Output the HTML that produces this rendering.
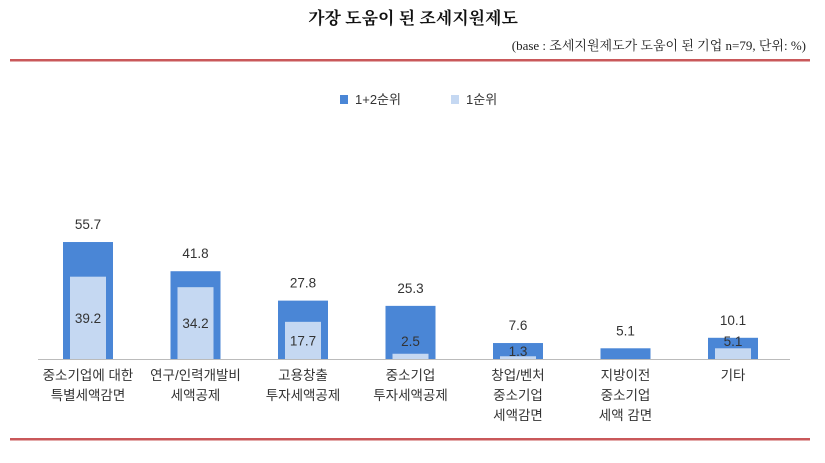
<!DOCTYPE html>
<html><head><meta charset="utf-8"><style>
body{margin:0;background:#fff;}
svg text{font-family:"Liberation Sans","Noto Sans CJK KR",sans-serif;}
</style></head><body>
<svg width="825" height="458" viewBox="0 0 825 458" xmlns="http://www.w3.org/2000/svg">
<text x="413" y="24" text-anchor="middle" font-size="17" font-weight="bold" style="font-family:'Liberation Serif','Noto Serif CJK SC',serif" fill="#111">가장 도움이 된 조세지원제도</text>
<text x="806" y="50" text-anchor="end" font-size="13" style="font-family:'Liberation Serif','Noto Serif CJK SC',serif" fill="#222">(base : 조세지원제도가 도움이 된 기업 n=79, 단위: %)</text>
<rect x="10" y="59" width="800" height="2.5" fill="#c9585a"/>
<rect x="10" y="438" width="800" height="2.5" fill="#c9585a"/>
<g>
<rect x="340" y="95" width="8" height="9" fill="#4a86d6"/>
<text x="355" y="104" font-size="13" fill="#333">1+2순위</text>
<rect x="451" y="95" width="8" height="9" fill="#c5d8f2"/>
<text x="466" y="104" font-size="13" fill="#333">1순위</text>
</g>
<line x1="38" y1="359.5" x2="790" y2="359.5" stroke="#bbb" stroke-width="1"/>
<g id="bars"></g>
</svg>
<script>
const categories=[["중소기업에 대한","특별세액감면"],["연구/인력개발비","세액공제"],["고용창출","투자세액공제"],["중소기업","투자세액공제"],["창업/벤처","중소기업","세액감면"],["지방이전","중소기업","세액 감면"],["기타"]];
const top2=[55.7,41.8,27.8,25.3,7.6,5.1,10.1];
const top1=[39.2,34.2,17.7,2.5,1.3,null,5.1];
const ns="http://www.w3.org/2000/svg";
const g=document.getElementById('bars');
const base=359, k=2.1;
function y(v){return base-v*k;}
function cx(i){return 88+i*107.5;}
function mk(t,a){const e=document.createElementNS(ns,t);for(const n in a)e.setAttribute(n,a[n]);g.appendChild(e);return e;}
categories.forEach((c,i)=>{
 const x=cx(i);
 const r=mk('rect',{x:x-25,y:y(top2[i]),width:50,height:top2[i]*k,fill:'#4a86d6'});
 
 
 const t=mk('text',{x:x,y:y(top2[i])-13,'text-anchor':'middle','font-size':13.5,fill:'#333'});
 t.textContent=top2[i].toFixed(1);
 
 
 if(top1[i]!=null){
  const r2=mk('rect',{x:x-18,y:y(top1[i]),width:36,height:top1[i]*k,fill:'#c5d8f2'});
  
  
  let ty=y(top1[i])+(top1[i]*k)/2+5;
  if(top1[i]<2) ty=base-3; else ty=Math.min(ty, base-13);
  const t2=mk('text',{x:x,y:ty,'text-anchor':'middle','font-size':13.5,fill:'#333'});
  t2.textContent=top1[i].toFixed(1);
  
  
 }
 c.forEach((l,j)=>{
  const tl=mk('text',{x:x,y:380+j*20,'text-anchor':'middle','font-size':13.5,fill:'#333'});
  tl.textContent=l;
  
  
 });
});
</script>
</body></html>
